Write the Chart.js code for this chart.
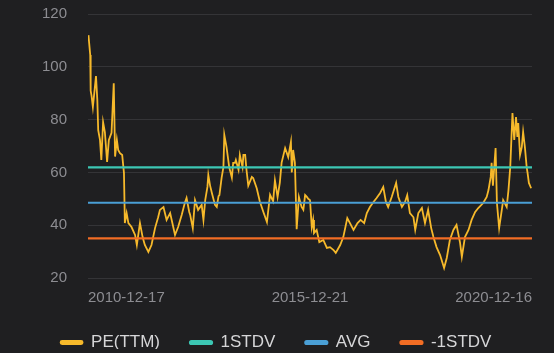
<!DOCTYPE html>
<html>
<head>
<meta charset="utf-8">
<script src="https://cdn.jsdelivr.net/npm/chart.js@4.4.1/dist/chart.umd.min.js"></script>
<style>
html,body{margin:0;padding:0;background:#1f1f21;}
#wrap{width:554px;height:353px;position:relative;}
</style>
</head>
<body>
<div id="wrap"><canvas id="c" width="554" height="353"></canvas></div>
<script>
// decimal-year positions of the PE(TTM) samples
const years = [2010.97,2011.01,2011.02,2011.04,2011.07,2011.14,2011.17,2011.19,2011.23,2011.26,2011.30,2011.34,2011.39,2011.43,2011.49,2011.54,2011.57,2011.61,2011.64,2011.68,2011.73,2011.77,2011.79,2011.83,2011.87,2011.94,2012.02,2012.06,2012.13,2012.19,2012.24,2012.32,2012.39,2012.47,2012.54,2012.58,2012.66,2012.73,2012.81,2012.88,2012.92,2012.99,2013.07,2013.14,2013.18,2013.24,2013.26,2013.32,2013.37,2013.44,2013.52,2013.56,2013.60,2013.65,2013.67,2013.71,2013.75,2013.82,2013.86,2013.90,2013.92,2013.97,2014.01,2014.03,2014.08,2014.14,2014.20,2014.23,2014.27,2014.29,2014.35,2014.38,2014.44,2014.46,2014.50,2014.53,2014.57,2014.65,2014.68,2014.76,2014.83,2014.91,2014.99,2015.06,2015.13,2015.17,2015.23,2015.28,2015.32,2015.40,2015.47,2015.53,2015.55,2015.58,2015.62,2015.66,2015.71,2015.77,2015.81,2015.85,2015.89,2015.92,2015.96,2016.00,2016.03,2016.05,2016.11,2016.17,2016.26,2016.34,2016.41,2016.49,2016.54,2016.64,2016.71,2016.80,2016.86,2016.94,2017.03,2017.10,2017.18,2017.24,2017.31,2017.39,2017.46,2017.54,2017.61,2017.67,2017.72,2017.80,2017.90,2017.95,2018.03,2018.10,2018.15,2018.21,2018.29,2018.33,2018.40,2018.48,2018.55,2018.62,2018.69,2018.74,2018.81,2018.89,2018.98,2019.04,2019.11,2019.19,2019.26,2019.34,2019.38,2019.45,2019.53,2019.60,2019.68,2019.75,2019.86,2019.94,2019.98,2020.03,2020.05,2020.08,2020.14,2020.17,2020.22,2020.28,2020.31,2020.39,2020.43,2020.47,2020.52,2020.56,2020.60,2020.63,2020.65,2020.69,2020.73,2020.76,2020.80,2020.84,2020.86,2020.89,2020.94];
const pe = [112,104.5,91,89,84.8,96.5,87.4,76,72.3,64.7,79,75.3,64,72.3,75,93.8,66,72.3,68.5,67.3,66.6,59.8,40.8,44.6,40.8,39.3,36.3,32.5,40.8,35.5,32.5,29.9,32.5,38.9,43,45.8,46.9,42,44.6,39.3,36.3,39.3,43.9,48.4,50.3,45,44,38.9,49.5,45.8,47.7,42,49.5,54.5,59,55,52.2,47.7,46.9,51,51.4,58,62,74.2,69.6,62,58,63.6,63.6,64.7,61,66.6,62,66.6,66.6,60.9,55,58.3,57.9,54,49,45,41.2,51.5,49,57,50.7,56,63.6,69.2,65.8,71.5,60,68.5,63.6,38.5,50.7,46.9,45.8,51.4,50.7,50,49.5,39.3,42,37,38.2,33.6,34.4,31.4,31.7,30.6,29.5,32.5,35.5,42.7,40.8,38.2,40.8,42,40.8,44.6,46.9,48.8,50.3,52.2,54.5,48.8,46.9,50.7,56,50.7,46.9,48.8,51.4,44.6,43,38.2,44.6,46.5,40.8,45.8,38.9,35.5,31.7,28.7,23.8,27.6,34.4,38.2,40.1,33.3,28,35.5,38.2,42,45,46.5,48.4,50.7,53.3,58.3,63.6,55,69.2,48.4,38.9,45.8,49.5,46.9,53.3,62,82.5,72.3,81,73.4,78.7,66.6,69.6,75.3,69.6,62,59.8,56,54];
const stdvPlus = 61.9;
const avg = 48.5;
const stdvMinus = 35.0;
const seriesNames = ['PE(TTM)','1STDV','AVG','-1STDV'];
const tickLabels = ['2010-12-17','2015-12-21','2020-12-16'];
const tickYears = [2010.96, 2015.96, 2020.96];

const peData = years.map((x,i)=>({x:x, y:pe[i]}));
const flat = v => [{x:tickYears[0], y:v},{x:tickYears[2], y:v}];

const colors = ['#f6b92b','#3cc7b4','#4a9fd6','#f26d24'];

const layoutFix = {
  id: 'layoutFix',
  beforeLayout(chart) {
    const lg = chart.legend;
    if (lg && !lg._patched) {
      const f = lg.fit.bind(lg);
      lg.fit = function(){ f(); this.height = 45; };
      lg._patched = true;
    }
  },
  beforeDraw(chart) {
    const lg = chart.legend;
    if (lg && !lg._shifted) {
      const h = lg.height;
      lg.top = 304;
      lg.bottom = lg.top + h;
      lg.left += 10;
      lg.right += 10;
      lg._shifted = true;
    }
  }
};

new Chart(document.getElementById('c'), {
  type: 'line',
  data: {
    datasets: [
      {label: seriesNames[0], data: peData, borderColor: colors[0], backgroundColor: colors[0], borderWidth: 1.8, pointRadius: 0, tension: 0, order: 1},
      {label: seriesNames[1], data: flat(stdvPlus), borderColor: colors[1], backgroundColor: colors[1], borderWidth: 2.2, pointRadius: 0, order: 0},
      {label: seriesNames[2], data: flat(avg), borderColor: colors[2], backgroundColor: colors[2], borderWidth: 2.2, pointRadius: 0, order: 0},
      {label: seriesNames[3], data: flat(stdvMinus), borderColor: colors[3], backgroundColor: colors[3], borderWidth: 2.2, pointRadius: 0, order: 0}
    ]
  },
  plugins: [layoutFix],
  options: {
    responsive: false,
    animation: false,
    events: [],
    layout: {padding: {left: 0, right: 22, top: 14, bottom: 0}},
    scales: {
      x: {
        type: 'linear',
        min: tickYears[0], max: tickYears[2],
        afterBuildTicks: s => { s.ticks = tickYears.map(v => ({value: v})); },
        afterFit: s => { s.height = 30; s.paddingLeft = 0; s.paddingRight = 0; },
        grid: {display: false, drawTicks: false},
        border: {display: false},
        ticks: {
          align: 'inner',
          maxRotation: 0,
          autoSkip: false,
          padding: 11,
          color: '#8d8d92',
          font: {family: 'Liberation Sans', size: 15},
          callback: v => { const i = tickYears.indexOf(v); return i >= 0 ? tickLabels[i] : ''; }
        }
      },
      y: {
        min: 20, max: 120,
        afterFit: s => { s.width = 88; s.paddingTop = 0; s.paddingBottom = 0; },
        grid: {color: '#343437', lineWidth: 1, drawTicks: false},
        border: {display: false},
        ticks: {
          stepSize: 20,
          padding: 21,
          color: '#8d8d92',
          font: {family: 'Liberation Sans', size: 15}
        }
      }
    },
    plugins: {
      tooltip: {enabled: false},
      legend: {
        position: 'bottom',
        labels: {
          sort: (a,b) => a.datasetIndex - b.datasetIndex,
          boxWidth: 22,
          boxHeight: 3,
          padding: 30,
          color: '#d6d6d8',
          font: {family: 'Liberation Sans', size: 17},
          useBorderRadius: true,
          borderRadius: 1.5
        }
      }
    }
  }
});
</script>
</body>
</html>
